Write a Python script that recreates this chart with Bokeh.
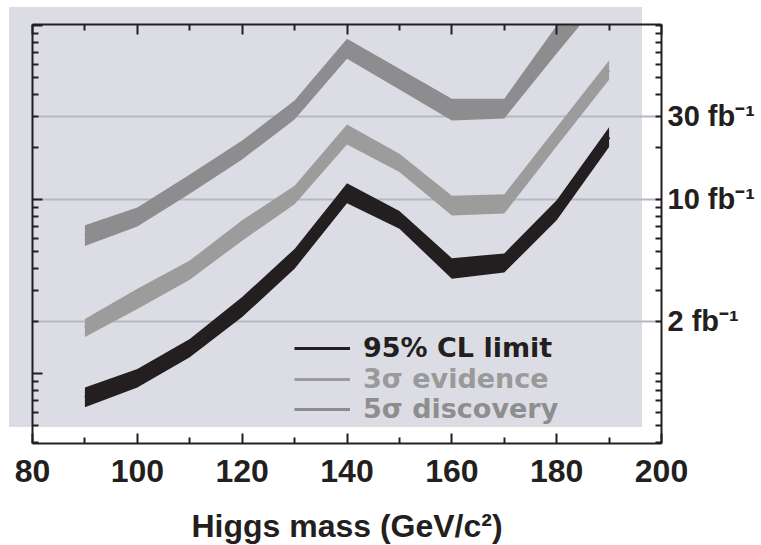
from bokeh.plotting import figure
from bokeh.models import (LogAxis, LinearAxis, FixedTicker, CustomJSTickFormatter,
                          Legend, LegendItem, Range1d)
from bokeh.embed import file_html
from bokeh.resources import INLINE

# ---------------- data ----------------
mass = [90, 100, 110, 120, 130, 140, 150, 160, 170, 180, 190]

cl95_lo = [0.64, 0.83, 1.24, 2.11, 4.0, 9.5, 6.8, 3.5, 3.8, 7.6, 20.0]
cl95_hi = [0.83, 1.06, 1.58, 2.75, 5.2, 12.4, 8.6, 4.6, 4.9, 9.9, 26.0]

ev3_lo = [1.62, 2.35, 3.46, 5.8, 9.4, 20.7, 14.4, 8.1, 8.3, 20.2, 48.7]
ev3_hi = [2.06, 3.07, 4.46, 7.6, 12.0, 27.0, 18.3, 10.5, 10.7, 26.0, 63.0]

disc5_lo = [5.4, 7.0, 10.8, 17.0, 28.8, 64.4, 42.9, 28.4, 29.2, 69.0, 160.0]
disc5_hi = [7.1, 9.0, 13.9, 21.8, 37.1, 83.9, 56.4, 37.9, 37.9, 100.0, 230.0]

series_labels = ["95% CL limit", "3\u03c3 evidence", "5\u03c3 discovery"]

x_major = [80, 100, 120, 140, 160, 180, 200]
x_minor = [90, 110, 130, 150, 170, 190]
y_major = [1, 10, 100]
y_minor = [0.4, 0.5, 0.6, 0.7, 0.8, 0.9,
           2, 3, 4, 5, 6, 7, 8, 9,
           20, 30, 40, 50, 60, 70, 80, 90]
lumi_ticks = [2, 10, 30]
lumi_labels = ["2 fb\u207b\u00b9", "10 fb\u207b\u00b9", "30 fb\u207b\u00b9"]

# ---------------- styles ----------------
INK = "#231f20"
BG = "#dcdce4"
GRID = "#b4b9c0"
C_CL = "#231f20"
C_EV = "#9c9c9c"
C_DI = "#8d8d8f"
TXT_EV = "#9a9a9a"
TXT_DI = "#8e8e8e"
FONT = "Liberation Sans"

p = figure(frame_width=629, frame_height=419,
           x_range=Range1d(80, 200), y_range=Range1d(0.396, 101.3),
           y_axis_type="log", output_backend="svg", toolbar_location=None,
           min_border_left=32, min_border_top=24,
           min_border_right=99, min_border_bottom=101,
           background_fill_color=None, border_fill_color=None,
           outline_line_color=None)

# offset grey panel behind the plot (background of the figure element)
p.styles = {
    "background": f"linear-gradient({BG}, {BG}) 9px 7px / 633px 420px no-repeat, white",
}

# grid only at the luminosity levels
p.xgrid.visible = False
p.ygrid.ticker = FixedTicker(ticks=lumi_ticks)
p.ygrid.grid_line_color = GRID
p.ygrid.grid_line_width = 2

# bands
r_di = p.varea(x=mass, y1=disc5_lo, y2=disc5_hi, fill_color=C_DI)
r_ev = p.varea(x=mass, y1=ev3_lo, y2=ev3_hi, fill_color=C_EV)
r_cl = p.varea(x=mass, y1=cl95_lo, y2=cl95_hi, fill_color=C_CL)


# centre lines hidden inside the bands (used as legend glyphs)
def centre(lo, hi):
    return [(a * b) ** 0.5 for a, b in zip(lo, hi)]


l_cl = p.line(mass, centre(cl95_lo, cl95_hi), line_color=C_CL, line_width=3)
l_ev = p.line(mass, centre(ev3_lo, ev3_hi), line_color=C_EV, line_width=3)
l_di = p.line(mass, centre(disc5_lo, disc5_hi), line_color=C_DI, line_width=3)

blank = CustomJSTickFormatter(code="return ''")


def style_axis(ax):
    ax.axis_line_color = INK
    ax.axis_line_width = 2
    ax.major_tick_line_color = INK
    ax.major_tick_line_width = 2
    ax.minor_tick_line_color = INK
    ax.minor_tick_line_width = 2
    ax.major_tick_out = 0
    ax.minor_tick_out = 0
    ax.major_tick_in = 10
    ax.minor_tick_in = 6
    ax.major_label_text_color = INK
    ax.major_label_text_font = FONT
    ax.major_label_text_font_style = "bold"


# bottom axis
xb = p.xaxis[0]
xb.ticker = FixedTicker(ticks=x_major, minor_ticks=x_minor)
style_axis(xb)
xb.major_label_text_font_size = "32px"
xb.major_label_standoff = 16
xb.axis_label = "Higgs mass (GeV/c\u00b2)"
xb.axis_label_text_font = FONT
xb.axis_label_text_font_style = "bold"
xb.axis_label_text_font_size = "32px"
xb.axis_label_text_color = INK
xb.axis_label_standoff = 23

# top axis
xt = LinearAxis(ticker=FixedTicker(ticks=x_major, minor_ticks=x_minor), formatter=blank)
style_axis(xt)
xt.major_label_standoff = 0
p.add_layout(xt, "above")

# left axis
yl = p.yaxis[0]
yl.ticker = FixedTicker(ticks=y_major, minor_ticks=y_minor)
yl.formatter = blank
style_axis(yl)
yl.major_label_standoff = 0

# right axis with luminosity labels
yr = LogAxis(ticker=FixedTicker(ticks=lumi_ticks, minor_ticks=y_major + y_minor))
style_axis(yr)
yr.major_tick_in = 0
yr.major_label_text_font_size = "29px"
yr.major_label_standoff = 6
yr.major_label_overrides = dict(zip(lumi_ticks, lumi_labels))
p.add_layout(yr, "right")

# legend, one per entry so each label keeps its own colour
for rend, lab, col, vy in [(l_cl, series_labels[0], INK, 80),
                           (l_ev, series_labels[1], TXT_EV, 49),
                           (l_di, series_labels[2], TXT_DI, 19)]:
    lg = Legend(items=[LegendItem(label=lab, renderers=[rend])],
                location=(262, vy), glyph_width=56, glyph_height=28,
                label_standoff=13, padding=0, margin=0, spacing=0,
                border_line_color=None, background_fill_alpha=0,
                label_text_font="DejaVu Sans", label_text_font_style="bold",
                label_text_font_size="27px", label_text_color=col,
                label_height=28)
    p.add_layout(lg)

open("out.html", "w").write(file_html(p, INLINE))
